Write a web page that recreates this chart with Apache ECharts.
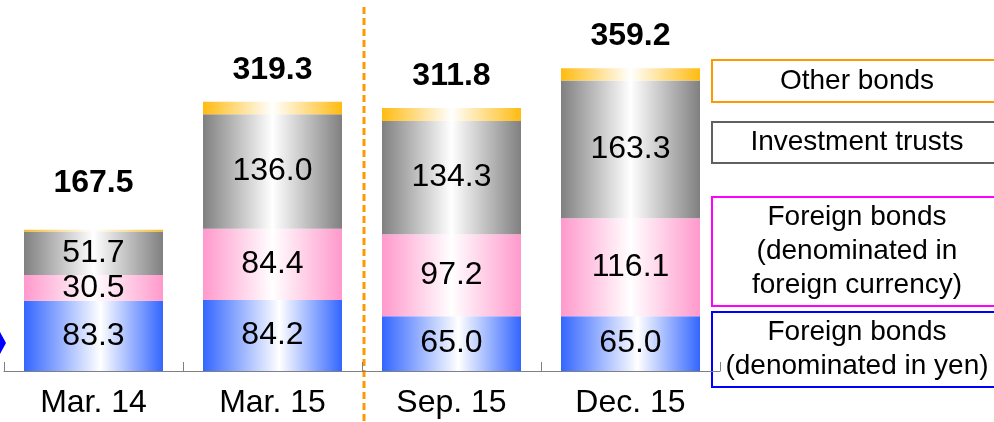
<!DOCTYPE html>
<html>
<head>
<meta charset="utf-8">
<script src="https://cdn.jsdelivr.net/npm/echarts@6/dist/echarts.min.js"></script>
<style>
  html, body { margin: 0; padding: 0; background: #fff; }
  #chart { width: 994px; height: 422px; }
</style>
</head>
<body>
<div id="chart"></div>
<script>
// periods on the x axis
const categories = ['Mar. 14', 'Mar. 15', 'Sep. 15', 'Dec. 15'];

// stacked segments, bottom to top
const yenBonds = [83.3, 84.2, 65.0, 65.0];
const fxBonds = [30.5, 84.4, 97.2, 116.1];
const invTrusts = [51.7, 136.0, 134.3, 163.3];
const otherBonds = [2.0, 14.7, 15.3, 14.8];
const totals = [167.5, 319.3, 311.8, 359.2];

const legendNames = [
    'Other bonds',
    'Investment trusts',
    'Foreign bonds\n(denominated in\nforeign currency)',
    'Foreign bonds\n(denominated in yen)'
];

const font = 'Liberation Sans, Arial, sans-serif';

function grad(c, mid) {
    return new echarts.graphic.LinearGradient(0, 0, 1, 0, [
        {offset: 0, color: c},
        {offset: mid, color: '#ffffff'},
        {offset: 1, color: c}
    ]);
}

const segLabel = {
    show: true,
    position: 'inside',
    color: '#000',
    fontSize: 32,
    fontFamily: font,
    formatter: p => p.value.toFixed(1)
};

let chart = echarts.init(document.getElementById('chart'));

let option = {
    backgroundColor: '#fff',
    animation: false,
    grid: {left: 4, right: 274, top: 0, bottom: 51},
    xAxis: {
        type: 'category',
        data: categories,
        axisLine: {lineStyle: {color: '#808080', width: 1}},
        axisTick: {show: true, alignWithLabel: false, inside: true, length: 9, lineStyle: {color: '#808080'}},
        axisLabel: {color: '#000', fontSize: 32, fontFamily: font, margin: 16}
    },
    yAxis: {
        type: 'value', min: 0, max: 440, show: false,
        splitLine: {show: false}
    },
    series: [
        {
            name: 'yen', type: 'bar', stack: 'a', barWidth: 139,
            data: yenBonds,
            itemStyle: {color: grad('#3366ff', 0.55)},
            label: segLabel
        },
        {
            name: 'fx', type: 'bar', stack: 'a', barWidth: 139,
            data: fxBonds,
            itemStyle: {color: grad('#ff99cc', 0.5)},
            label: segLabel
        },
        {
            name: 'trusts', type: 'bar', stack: 'a', barWidth: 139,
            data: invTrusts,
            itemStyle: {color: grad('#808080', 0.5)},
            label: segLabel
        },
        {
            name: 'other', type: 'bar', stack: 'a', barWidth: 139,
            data: otherBonds.map((v, i) => ({
                value: v,
                label: {distance: i === 0 ? 31 : 16}
            })),
            itemStyle: {color: grad('#ffbb11', 0.5)},
            label: {
                show: true, position: 'top', color: '#000',
                fontSize: 32, fontWeight: 'bold', fontFamily: font,
                formatter: p => totals[p.dataIndex].toFixed(1)
            }
        }
    ],
    graphic: []
};

// legend boxes on the right
const boxes = [
    {top: 60, h: 42, border: '#ff9900'},
    {top: 122, h: 41, border: '#606060'},
    {top: 197, h: 109, border: '#ff00ff'},
    {top: 312, h: 75, border: '#0000ff'}
];
boxes.forEach((b, i) => {
    option.graphic.push({
        type: 'rect',
        shape: {x: 712, y: b.top, width: 300, height: b.h},
        style: {fill: '#fff', stroke: b.border, lineWidth: 2}
    });
    option.graphic.push({
        type: 'text',
        x: 857, y: b.top + b.h / 2,
        style: {
            text: legendNames[i], fill: '#000', font: '28px ' + font,
            align: 'center', verticalAlign: 'middle', lineHeight: 34
        }
    });
});

// dashed separator
option.graphic.push({
    type: 'line',
    shape: {x1: 364, y1: 7, x2: 364, y2: 422},
    style: {stroke: '#ff9900', lineWidth: 3, lineDash: [7, 4]}
});

// blue diamond at left edge
option.graphic.push({
    type: 'polygon',
    shape: {points: [[-6, 343], [0, 332], [6, 343], [0, 354]]},
    style: {fill: '#0000ff'}
});

chart.setOption(option);
</script>
</body>
</html>
